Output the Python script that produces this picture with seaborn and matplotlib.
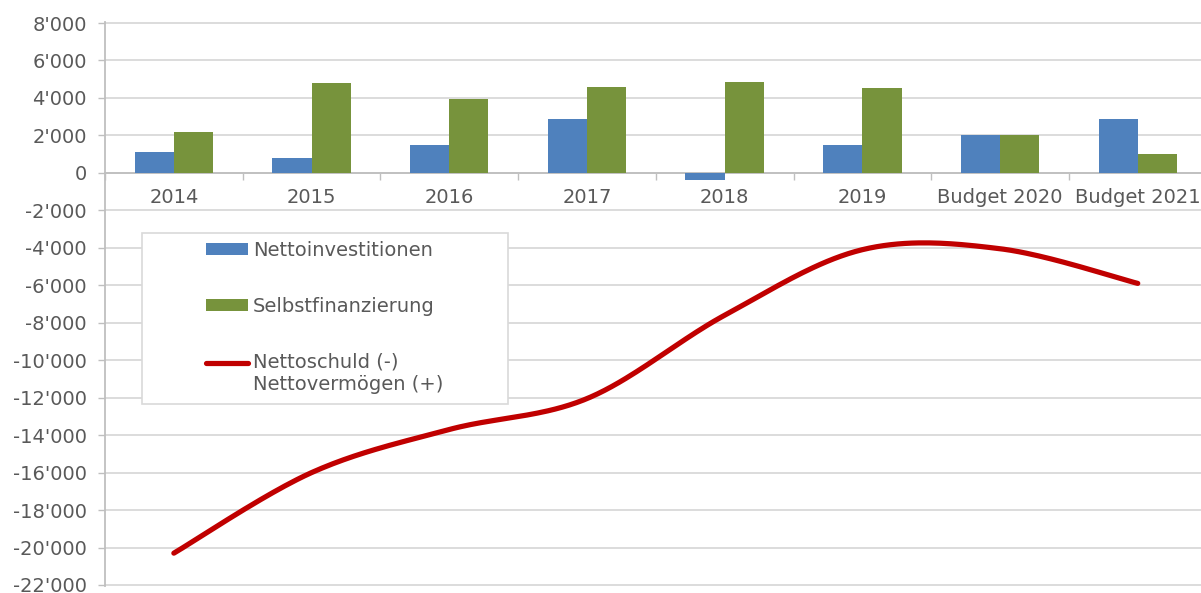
import numpy as np
import pandas as pd
import matplotlib
matplotlib.use("Agg")
import matplotlib.pyplot as plt
import seaborn as sns
from matplotlib.patches import Patch, Rectangle
from matplotlib.lines import Line2D
from matplotlib.ticker import FuncFormatter, FixedLocator

# ---------------- data ----------------
years = ["2014", "2015", "2016", "2017", "2018", "2019", "Budget 2020", "Budget 2021"]
nettoinvestitionen = [1130, 800, 1470, 2870, -390, 1470, 2000, 2870]
selbstfinanzierung = [2180, 4790, 3930, 4580, 4870, 4510, 2000, 990]
nettoschuld = [-20300, -16000, -13700, -12050, -7600, -4100, -4050, -5900]
series_names = ["Nettoinvestitionen", "Selbstfinanzierung"]
line_label = "Nettoschuld (-)\nNettovermögen (+)"
y_ticks = list(range(-22000, 8001, 2000))

colors = {"Nettoinvestitionen": "#4F81BD", "Selbstfinanzierung": "#77933C"}
line_color = "#C00000"
text_color = "#595959"
grid_color = "#d9d9d9"
axis_color = "#bfbfbf"
FS = 14

sns.set_style("white")
plt.rcParams["font.family"] = ["DejaVu Sans"]

W, H = 1201, 593
fig = plt.figure(figsize=(W / 100, H / 100), dpi=100)
fig.patch.set_facecolor("white")

ymin, ymax = -22050, 8050
ppu = (585 - 23) / 30000.0
top_px = 23 - (ymax - 8000) * ppu
bot_px = 585 + (-22000 - ymin) * ppu
left_px, step = 105, 137.7
ax = fig.add_axes([left_px / W, 1 - bot_px / H, len(years) * step / W, (bot_px - top_px) / H])

df = pd.DataFrame({
    "Jahr": years * 2,
    "Reihe": [series_names[0]] * len(years) + [series_names[1]] * len(years),
    "Wert": nettoinvestitionen + selbstfinanzierung,
})
sns.barplot(data=df, x="Jahr", y="Wert", hue="Reihe", order=years, hue_order=series_names,
            palette=colors, width=0.57, gap=0, saturation=1, linewidth=0,
            legend=False, ax=ax, zorder=2)


def excel_smooth(xs, ys, n=40):
    pts = np.column_stack([xs, ys]).astype(float)
    ext = np.vstack([pts[0], pts, pts[-1]])
    out = []
    t = np.linspace(0, 1, n)[:, None]
    for i in range(len(pts) - 1):
        p0, p1, p2, p3 = ext[i], ext[i + 1], ext[i + 2], ext[i + 3]
        c1 = p1 + (p2 - p0) / 6.0
        c2 = p2 - (p3 - p1) / 6.0
        seg = (1 - t) ** 3 * p1 + 3 * (1 - t) ** 2 * t * c1 + 3 * (1 - t) * t ** 2 * c2 + t ** 3 * p2
        out.append(seg if i == 0 else seg[1:])
    return np.vstack(out)


curve = excel_smooth(np.arange(len(years)), nettoschuld)
ax.plot(curve[:, 0], curve[:, 1], color=line_color, lw=3.75, solid_capstyle="round", zorder=3)

# ---------------- axes styling ----------------
ax.set_xlim(-0.5, len(years) - 0.5)
ax.set_ylim(ymin, ymax)
ax.set_yticks(y_ticks)
ax.yaxis.set_major_formatter(FuncFormatter(lambda v, p: f"{int(round(v)):,}".replace(",", "'")))
ax.grid(axis="y", color=grid_color, lw=1.3, zorder=0)
ax.grid(axis="x", visible=False)
ax.set_axisbelow(True)
ax.set_xlabel("")
ax.set_ylabel("")

for s in ["top", "right"]:
    ax.spines[s].set_visible(False)
ax.spines["left"].set_color(axis_color)
ax.spines["left"].set_linewidth(1.3)
ax.spines["bottom"].set_position(("data", 0))
ax.spines["bottom"].set_color(axis_color)
ax.spines["bottom"].set_linewidth(1.3)
ax.spines["bottom"].set_zorder(1.5)

ax.tick_params(axis="y", which="major", left=True, direction="out", length=5, width=1,
               color=axis_color, pad=8, labelsize=FS, labelcolor=text_color)
ax.tick_params(axis="x", which="major", bottom=True, length=0, pad=11, labelsize=FS, labelcolor=text_color)
ax.xaxis.set_minor_locator(FixedLocator(np.arange(-0.5, len(years), 1.0)))
ax.tick_params(axis="x", which="minor", bottom=True, direction="out", length=5, width=1, color=axis_color)

# ---------------- legend ----------------
fig.add_artist(Rectangle((142 / W, 1 - 404 / H), (508 - 142) / W, (404 - 233) / H,
                         transform=fig.transFigure, facecolor="white", edgecolor=grid_color,
                         lw=1.2, zorder=4))
handles = [Patch(facecolor=colors[n], edgecolor="none") for n in series_names] + \
          [Line2D([], [], color=line_color, lw=3.75, solid_capstyle="round")]
leg = fig.legend(handles, series_names + [line_label], loc="upper left",
                 bbox_to_anchor=(206 / W, 1 - 241 / H), frameon=False, borderpad=0, borderaxespad=0,
                 handlelength=2.16, handleheight=0.57, handletextpad=0.26, labelspacing=1.9,
                 fontsize=FS, labelcolor=text_color)
# align the line handle with the first text line of its two-line label
red = leg.legend_handles[2]
red.set_ydata(np.asarray(red.get_ydata()) + 8.6)

fig.savefig("out.png", dpi=100)
